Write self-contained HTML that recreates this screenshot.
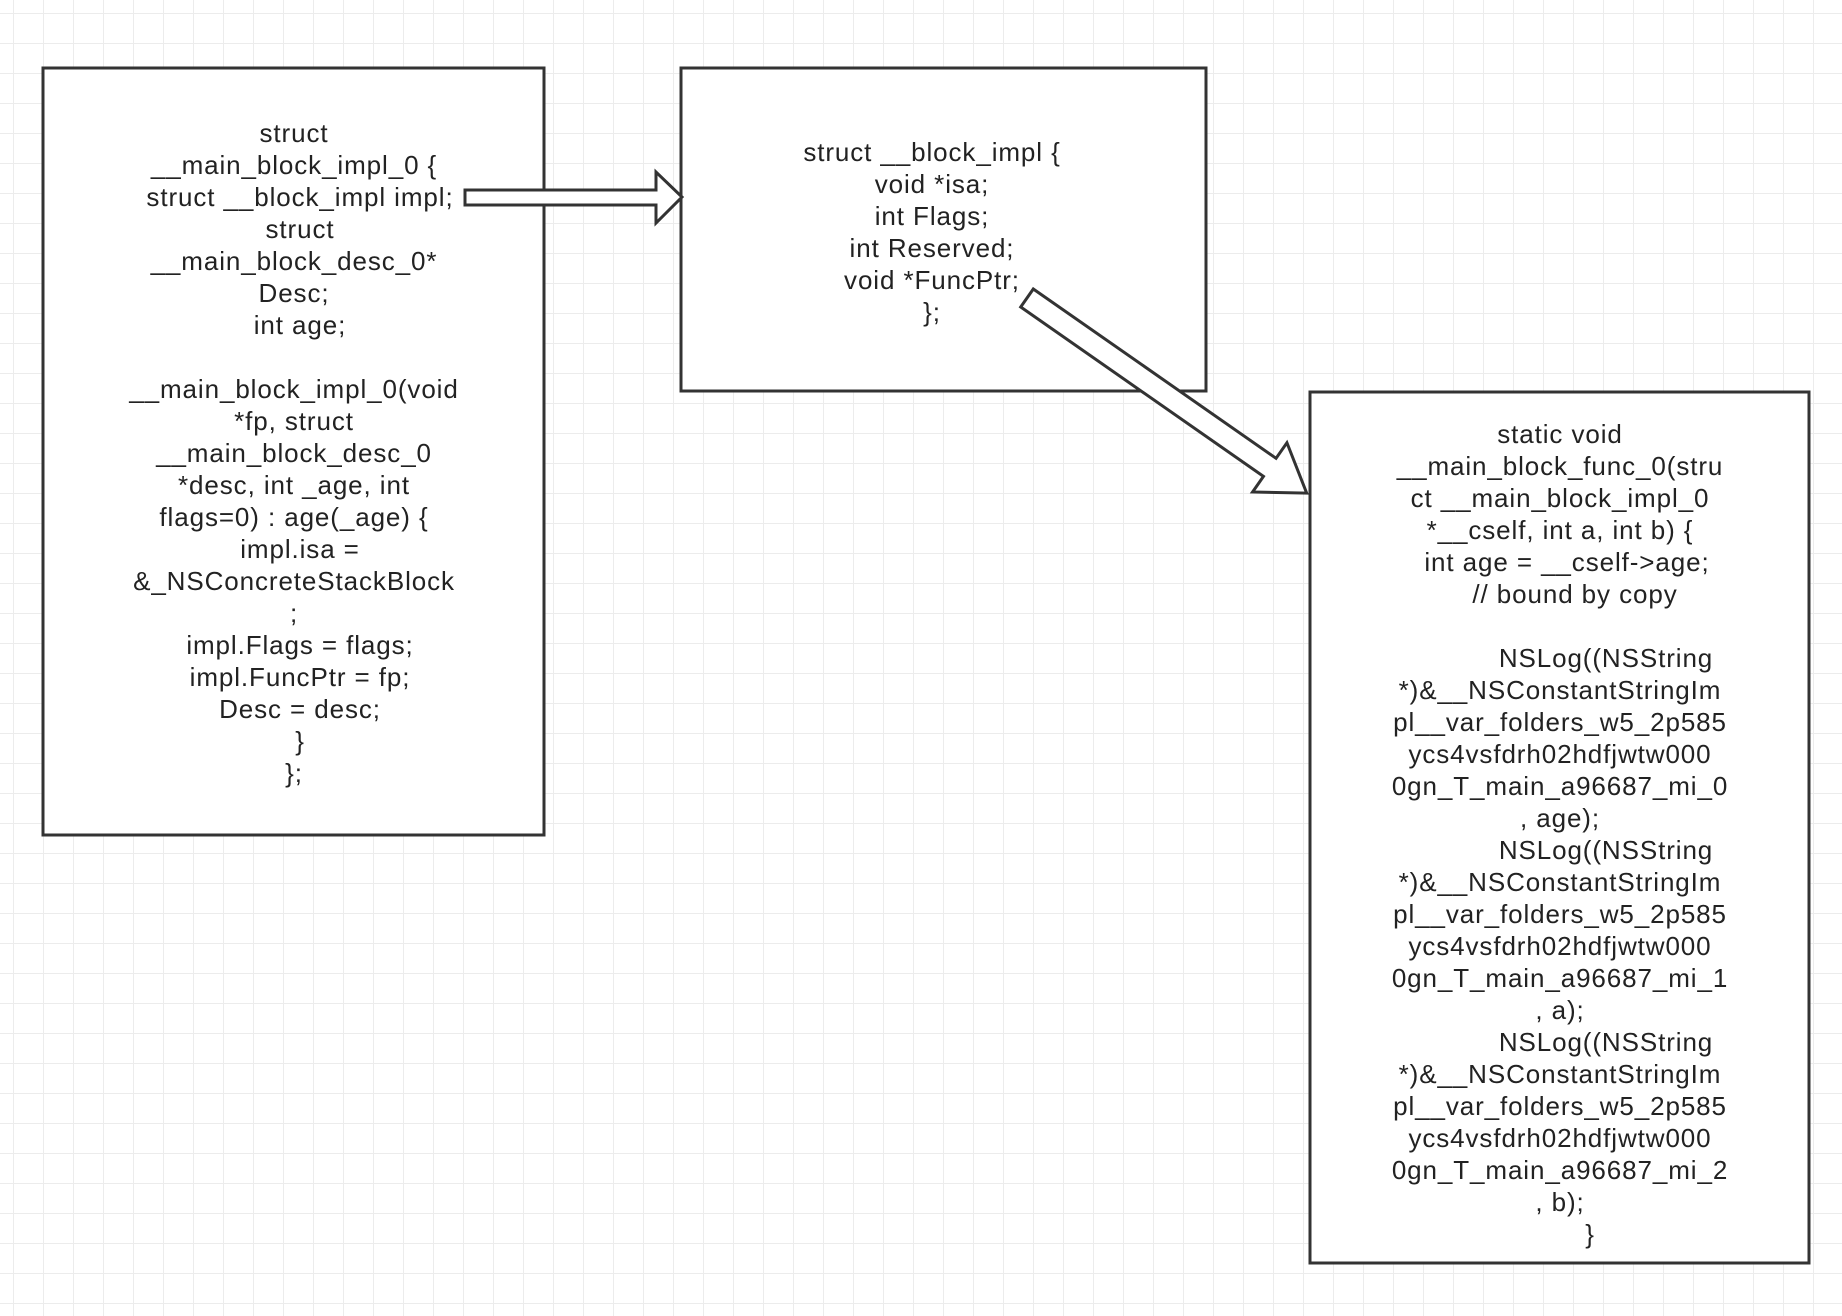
<!DOCTYPE html>
<html><head><meta charset="utf-8"><style>
html,body{margin:0;padding:0;background:#fff;}
svg{display:block;}
text{font-family:"Liberation Sans",sans-serif;font-size:26px;letter-spacing:0.9px;fill:#222;}
</style></head><body>
<svg width="1842" height="1316" viewBox="0 0 1842 1316" xmlns="http://www.w3.org/2000/svg">
<defs>
<pattern id="g" x="13" y="13" width="30" height="30" patternUnits="userSpaceOnUse">
<path d="M0 0H30M0 0V30" stroke="#ececec" stroke-width="2" fill="none"/>
</pattern>
</defs>
<rect width="1842" height="1316" fill="url(#g)"/>
<rect x="43" y="68" width="501" height="767" fill="#fff" stroke="#333" stroke-width="3"/>
<rect x="681" y="68" width="525" height="323" fill="#fff" stroke="#333" stroke-width="3"/>
<rect x="1310" y="392" width="499" height="871" fill="#fff" stroke="#333" stroke-width="3"/>

<g text-anchor="middle">
<text x="294" y="142">struct</text>
<text x="294" y="174">__main_block_impl_0 {</text>
<text x="300" y="206">struct __block_impl impl;</text>
<text x="300" y="238">struct</text>
<text x="294" y="270">__main_block_desc_0*</text>
<text x="294" y="302">Desc;</text>
<text x="300" y="334">int age;</text>
<text x="294" y="398">__main_block_impl_0(void</text>
<text x="294" y="430">*fp, struct</text>
<text x="294" y="462">__main_block_desc_0</text>
<text x="294" y="494">*desc, int _age, int</text>
<text x="294" y="526">flags=0) : age(_age) {</text>
<text x="300" y="558">impl.isa =</text>
<text x="294" y="590">&amp;_NSConcreteStackBlock</text>
<text x="294" y="622">;</text>
<text x="300" y="654">impl.Flags = flags;</text>
<text x="300" y="686">impl.FuncPtr = fp;</text>
<text x="300" y="718">Desc = desc;</text>
<text x="300" y="750">}</text>
<text x="294" y="782">};</text>

<text x="932" y="161">struct __block_impl {</text>
<text x="932" y="193">void *isa;</text>
<text x="932" y="225">int Flags;</text>
<text x="932" y="257">int Reserved;</text>
<text x="932" y="289">void *FuncPtr;</text>
<text x="932" y="321">};</text>

<text x="1560" y="443">static void</text>
<text x="1560" y="475">__main_block_func_0(stru</text>
<text x="1560" y="507">ct __main_block_impl_0</text>
<text x="1560" y="539">*__cself, int a, int b) {</text>
<text x="1567" y="571">int age = __cself-&gt;age;</text>
<text x="1575" y="603">// bound by copy</text>
<text x="1606" y="667">NSLog((NSString</text>
<text x="1560" y="699">*)&amp;__NSConstantStringIm</text>
<text x="1560" y="731">pl__var_folders_w5_2p585</text>
<text x="1560" y="763">ycs4vsfdrh02hdfjwtw000</text>
<text x="1560" y="795">0gn_T_main_a96687_mi_0</text>
<text x="1560" y="827">, age);</text>
<text x="1606" y="859">NSLog((NSString</text>
<text x="1560" y="891">*)&amp;__NSConstantStringIm</text>
<text x="1560" y="923">pl__var_folders_w5_2p585</text>
<text x="1560" y="955">ycs4vsfdrh02hdfjwtw000</text>
<text x="1560" y="987">0gn_T_main_a96687_mi_1</text>
<text x="1560" y="1019">, a);</text>
<text x="1606" y="1051">NSLog((NSString</text>
<text x="1560" y="1083">*)&amp;__NSConstantStringIm</text>
<text x="1560" y="1115">pl__var_folders_w5_2p585</text>
<text x="1560" y="1147">ycs4vsfdrh02hdfjwtw000</text>
<text x="1560" y="1179">0gn_T_main_a96687_mi_2</text>
<text x="1560" y="1211">, b);</text>
<text x="1590" y="1243">}</text>
</g>

<polygon points="465,190 656,190 656,172 682,197 656,223 656,205 465,205" fill="#fff" stroke="#333" stroke-width="3" stroke-linejoin="miter"/>

<g transform="translate(1027,298) rotate(34.9)">
<polygon points="0,-11 296,-11 296,-30 341,0 296,30 296,11 0,11" fill="#fff" stroke="#333" stroke-width="3"/>
</g>
</svg>
</body></html>
